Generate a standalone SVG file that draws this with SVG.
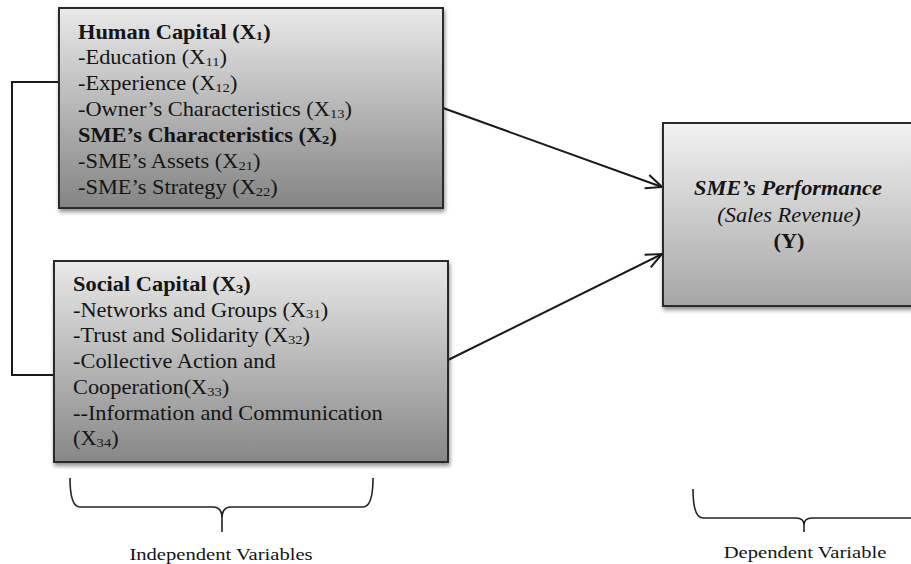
<svg xmlns="http://www.w3.org/2000/svg" width="911" height="564" viewBox="0 0 911 564">
<defs>
<linearGradient id="g1" x1="0" y1="0" x2="0" y2="1"><stop offset="0" stop-color="#e9e9e9"/><stop offset="1" stop-color="#848484"/></linearGradient>
<linearGradient id="g2" x1="0" y1="0" x2="0" y2="1"><stop offset="0" stop-color="#e9e9e9"/><stop offset="1" stop-color="#878787"/></linearGradient>
<linearGradient id="g3" x1="0" y1="0" x2="0" y2="1"><stop offset="0" stop-color="#f2f2f2"/><stop offset="1" stop-color="#a6a6a6"/></linearGradient>
<filter id="sh" x="-10%" y="-10%" width="120%" height="130%"><feGaussianBlur in="SourceAlpha" stdDeviation="2"/><feOffset dx="1" dy="3" result="b"/><feComponentTransfer><feFuncA type="linear" slope="0.45"/></feComponentTransfer><feMerge><feMergeNode/><feMergeNode in="SourceGraphic"/></feMerge></filter>
<marker id="ah" markerWidth="20" markerHeight="20" refX="17" refY="8" orient="auto" markerUnits="userSpaceOnUse"><path d="M1,1 L17,8 L1,15" fill="none" stroke="#1a1a1a" stroke-width="2"/></marker>
</defs>
<style>
.box{stroke:#2a2a2a;stroke-width:2;filter:url(#sh)}
.t{font-family:"Liberation Serif","Times New Roman",serif;font-size:20px;fill:#151515}
.b{font-weight:bold}
.i{font-style:italic}
.s{font-size:13px}
.con{fill:none;stroke:#1a1a1a;stroke-width:2}
.br{fill:none;stroke:#222;stroke-width:1.6}
.lab{font-family:"Liberation Serif","Times New Roman",serif;font-size:16.5px;fill:#151515}
</style>
<rect width="911" height="564" fill="#ffffff"/>
<g id="connectors">
<polyline class="con" points="59,82 12,82 12,375 54,375" stroke-width="1.6"/>
<line class="con" x1="443" y1="108" x2="662" y2="187" marker-end="url(#ah)"/>
<line class="con" x1="448" y1="360" x2="662" y2="254" marker-end="url(#ah)"/>
</g>
<g id="human-capital">
<rect class="box" x="59" y="8" width="384" height="200" fill="url(#g1)"/>
<text class="t b" transform="translate(78,38.5) scale(1.12,1)">Human Capital (X<tspan class="s" dy="1.5">1</tspan><tspan dy="-1.5">)</tspan></text>
<text class="t" transform="translate(78,64.4) scale(1.12,1)">-Education (X<tspan class="s" dy="1.5">11</tspan><tspan dy="-1.5">)</tspan></text>
<text class="t" transform="translate(78,90.3) scale(1.12,1)">-Experience (X<tspan class="s" dy="1.5">12</tspan><tspan dy="-1.5">)</tspan></text>
<text class="t" transform="translate(78,116.2) scale(1.12,1)">-Owner’s Characteristics (X<tspan class="s" dy="1.5">13</tspan><tspan dy="-1.5">)</tspan></text>
<text class="t b" transform="translate(78,142) scale(1.12,1)">SME’s Characteristics (X<tspan class="s" dy="1.5">2</tspan><tspan dy="-1.5">)</tspan></text>
<text class="t" transform="translate(78,168) scale(1.12,1)">-SME’s Assets (X<tspan class="s" dy="1.5">21</tspan><tspan dy="-1.5">)</tspan></text>
<text class="t" transform="translate(78,194) scale(1.12,1)">-SME’s Strategy (X<tspan class="s" dy="1.5">22</tspan><tspan dy="-1.5">)</tspan></text>
</g>
<g id="social-capital">
<rect class="box" x="54" y="261" width="394" height="201" fill="url(#g2)"/>
<text class="t b" transform="translate(73,291) scale(1.12,1)">Social Capital (X<tspan class="s" dy="1.5">3</tspan><tspan dy="-1.5">)</tspan></text>
<text class="t" transform="translate(73,316.7) scale(1.12,1)">-Networks and Groups (X<tspan class="s" dy="1.5">31</tspan><tspan dy="-1.5">)</tspan></text>
<text class="t" transform="translate(73,342.4) scale(1.12,1)">-Trust and Solidarity (X<tspan class="s" dy="1.5">32</tspan><tspan dy="-1.5">)</tspan></text>
<text class="t" transform="translate(73,368) scale(1.12,1)">-Collective Action and</text>
<text class="t" transform="translate(73,394) scale(1.12,1)">Cooperation(X<tspan class="s" dy="1.5">33</tspan><tspan dy="-1.5">)</tspan></text>
<text class="t" transform="translate(73,419.5) scale(1.12,1)">--Information and Communication</text>
<text class="t" transform="translate(73,445) scale(1.12,1)">(X<tspan class="s" dy="1.5">34</tspan><tspan dy="-1.5">)</tspan></text>
</g>
<g id="sme-performance">
<rect class="box" x="663" y="123" width="260" height="183" fill="url(#g3)"/>
<text class="t b i" text-anchor="middle" transform="translate(788,195) scale(1.12,1)">SME’s Performance</text>
<text class="t i" text-anchor="middle" transform="translate(789,222) scale(1.12,1)">(Sales Revenue)</text>
<text class="t b" text-anchor="middle" transform="translate(789,248) scale(1.12,1)">(Y)</text>
</g>
<g id="independent-variables">
<path class="br" d="M70,478 Q70,507 80,507 L213,507 Q222,507 222,518 L222,532 M222,518 Q222,507 231,507 L363,507 Q373,507 373,478"/>
<text class="lab" text-anchor="middle" transform="translate(221,560) scale(1.25,1)">Independent Variables</text>
</g>
<g id="dependent-variable">
<path class="br" d="M693,489 Q693,518 703,518 L796,518 Q804,518 804,525 L804,532 M804,525 Q804,518 812,518 L911,518"/>
<text class="lab" text-anchor="middle" transform="translate(805,558) scale(1.25,1)">Dependent Variable</text>
</g>
</svg>
